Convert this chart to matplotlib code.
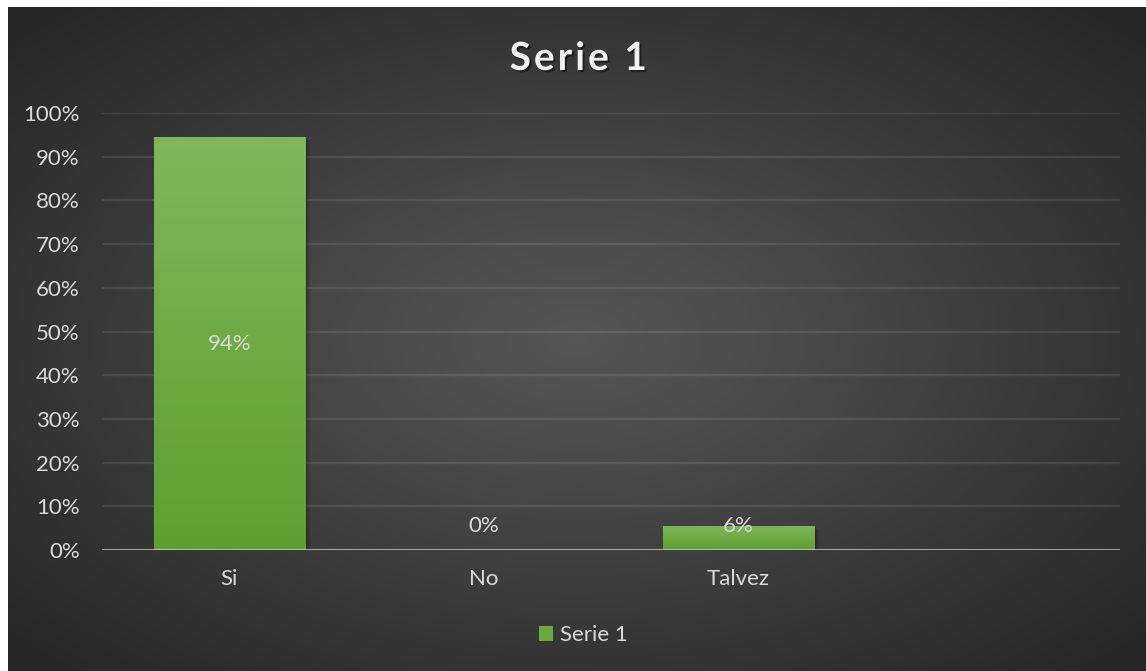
import numpy as np
import matplotlib
matplotlib.use("Agg")
import matplotlib.pyplot as plt
from matplotlib import patheffects as pe
from matplotlib.patches import Rectangle, Patch
from matplotlib.colors import LinearSegmentedColormap
from matplotlib.textpath import TextPath
from matplotlib.font_manager import FontProperties
import matplotlib.transforms as mtransforms

# Chart data
categories = ["Si", "No", "Talvez", ""]
values = [0.9444, 0.0, 0.0556, np.nan]
series_name = "Serie 1"
y_ticks = [0.0, 0.1, 0.2, 0.3, 0.4, 0.5, 0.6, 0.7, 0.8, 0.9, 1.0]
y_tick_labels = ["0%", "10%", "20%", "30%", "40%", "50%", "60%", "70%", "80%", "90%", "100%"]

W, H = 1146, 671
DPI = 100
plt.rcParams["font.family"] = ["Lato", "DejaVu Sans"]

fig = plt.figure(figsize=(W / DPI, H / DPI), dpi=DPI, facecolor="white")

# Dark radial-gradient chart area
bg_ax = fig.add_axes([8 / W, 0, 1 - 8 / W, 1 - 7 / H])
bg_ax.set_axis_off()
gx = np.linspace(-1, 1, 600)
gy = np.linspace(-1, 1, 360)
X, Y = np.meshgrid(gx, gy)
R = np.clip(np.sqrt(X ** 2 + Y ** 2) / 1.35, 0, 1)
shade = 0.335 - (0.335 - 0.150) * R ** 1.1
bg_img = np.dstack([shade, shade, shade])
bg_ax.imshow(bg_img, extent=[0, 1, 0, 1], aspect="auto", interpolation="bilinear")
bg_ax.set_xlim(0, 1)
bg_ax.set_ylim(0, 1)

# Plot area
left, right = 102 / W, 1120 / W
bottom, top = 1 - 550 / H, 1 - 113 / H
ax = fig.add_axes([left, bottom, right - left, top - bottom])
ax.patch.set_alpha(0)
x = np.arange(len(categories))

for s in ax.spines.values():
    s.set_visible(False)

ax.set_yticks(y_ticks)
ax.set_yticklabels(y_tick_labels)
ax.set_xticks(x)
ax.set_xticklabels(categories)
ax.tick_params(axis="y", length=0, pad=16, labelsize=16, labelcolor="#d9d9d9")
ax.tick_params(axis="x", length=0, pad=14, labelsize=16, labelcolor="#d9d9d9")
ax.grid(axis="y", color="white", alpha=0.09, linewidth=1.6)
ax.set_axisbelow(True)

bar_width = 0.594
green = LinearSegmentedColormap.from_list("bar_green", ["#5e9f33", "#6eab44", "#80b65d"])
grad = np.linspace(0, 1, 256).reshape(-1, 1)

for xi, v in zip(x, values):
    if np.isnan(v) or v <= 0:
        continue
    x0 = xi - bar_width / 2
    # soft drop shadow
    for k in range(3):
        off = mtransforms.offset_copy(ax.transData, fig=fig, x=2 + k * 1.5, y=-(1 + k), units="dots")
        ax.add_patch(Rectangle((x0, 0), bar_width, v, facecolor="black", alpha=0.10,
                               edgecolor="none", transform=off, zorder=2))
    # vertical gradient fill
    im = ax.imshow(grad, cmap=green, extent=[x0, x0 + bar_width, 0, v],
                   origin="lower", aspect="auto", zorder=3, interpolation="bilinear")
    clip = Rectangle((x0, 0), bar_width, v, transform=ax.transData, facecolor="none", edgecolor="none")
    ax.add_patch(clip)
    im.set_clip_path(clip)

ax.set_xlim(-0.5, len(categories) - 0.5)
ax.set_ylim(0, 1)

# Category axis line
ax.axhline(0, color="#e0e0e0", alpha=0.6, linewidth=2.2, zorder=4)

# Data labels
for xi, v in zip(x, values):
    if np.isnan(v):
        continue
    ax.text(xi, max(v / 2, 0.056), f"{v:.0%}", ha="center", va="center",
            fontsize=16, color="#d9d9d9", zorder=5)

# Title with letter spacing, placed one character at a time
title_size = 28
title_px = title_size * DPI / 72
tracking = 3.0  # extra pixels between characters
fp = FontProperties(family="Lato", weight="bold", size=title_px)
bar_w = TextPath((0, 0), "|", prop=fp).get_extents().x1
starts = []
for i in range(len(series_name)):
    prefix = series_name[:i]
    if prefix:
        starts.append(TextPath((0, 0), prefix + "|", prop=fp).get_extents().x1 - bar_w)
    else:
        starts.append(0.0)
total = TextPath((0, 0), series_name, prop=fp).get_extents().x1 + tracking * (len(series_name) - 1)
cx = 577
base_y = 1 - 70 / H
x_start = cx - total / 2
shadow = [pe.withSimplePatchShadow(offset=(1.5, -1.5), shadow_rgbFace="black", alpha=0.45)]
for i, ch in enumerate(series_name):
    if ch == " ":
        continue
    px = x_start + starts[i] + tracking * i
    fig.text(px / W, base_y, ch, ha="left", va="baseline", fontsize=title_size,
             fontweight="bold", color="#f2f2f2", path_effects=shadow)

# Legend
handle = Patch(facecolor="#6aa842", edgecolor="none", label=series_name)
fig.legend(handles=[handle], loc="center", bbox_to_anchor=(583 / W, 1 - 635 / H),
           frameon=False, fontsize=16, handlelength=0.65, handleheight=0.65,
           handletextpad=0.3, labelcolor="#d9d9d9")

fig.savefig("out.png", dpi=DPI, facecolor="white")
